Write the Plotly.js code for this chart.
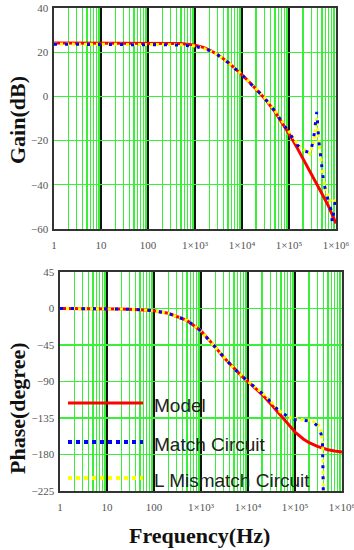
<!DOCTYPE html>
<html>
<head>
<meta charset="utf-8">
<script src="https://cdn.plot.ly/plotly-3.0.1.min.js"></script>
<style>html,body{margin:0;padding:0;background:#fff;}#chart{width:354px;height:550px;}</style>
</head>
<body>
<div id="chart"></div>
<script>
// ---------- data ----------
var modelFreq = [1,2,5,10,20,50,100,200,500,1000,1500,2000,3000,5000,7000,10000,15000,20000,30000,50000,70000,100000,150000,200000,300000,500000,700000,1000000];
var modelGain = [24.2,24.2,24.2,24.2,24.2,24.2,24.2,24.1,23.9,23.2,22.2,21.1,19.0,15.5,12.8,9.8,6.1,3.4,-0.8,-6.9,-11.5,-16.9,-23.4,-28.2,-35.1,-43.9,-49.9,-57.5];
var modelPhase = [0,-0.1,-0.2,-0.3,-0.6,-1.5,-2.9,-5.9,-14.6,-27.7,-38.6,-47.3,-59.7,-73.9,-82.1,-90.0,-99.1,-106.1,-117.2,-132.7,-142.9,-152.3,-160.8,-165.4,-170.1,-174.1,-175.7,-177.0];

var matchGainFreq = [1,2,5,10,20,50,100,200,500,1000,2000,3000,5000,10000,20000,30000,50000,100000,150000,200000,280000,330000,370000,390000,400000,410000,430000,460000,480000,500000,540000,620000,700000,800000,830000,1000000];
var matchGain = [23.6,23.6,23.6,23.6,23.6,23.6,23.6,23.5,23.3,22.7,20.8,18.8,15.4,9.8,3.4,-0.6,-6.6,-16.3,-22.0,-24.5,-25.5,-20,-12,-7,-10,-15,-20,-25,-29,-33,-38,-44,-48,-52,-57,-45];

var misGainFreq = [1,2,5,10,20,50,100,200,500,1000,2000,3000,5000,10000,20000,30000,50000,100000,150000,200000,280000,330000,370000,390000,410000,440000,480000,520000,600000,700000,800000,1000000];
var misGain = [23.7,23.7,23.7,23.7,23.7,23.7,23.7,23.6,23.4,22.8,20.9,18.9,15.5,9.9,3.6,-0.4,-6.4,-16.0,-21.5,-24.0,-26.0,-21,-14,-10,-16,-22,-30,-36,-42,-46,-48,-47];

var matchPhaseFreq = [1,2,5,10,20,50,100,200,500,1000,2000,3000,5000,10000,15000,20000,27000,35000,48000,70000,100000,140000,230000,320000,360000,385000,390000,393000,396000,400000];
var matchPhase = [0,0,0,-0.3,-0.6,-1.5,-2.9,-5.9,-14.6,-27.7,-47.3,-59.7,-73.9,-90,-98.5,-104.5,-112,-120,-127,-133,-137,-138,-139,-146,-155,-168,-182,-198,-212,-225];

var misPhaseFreq = [1,2,5,10,20,50,100,200,500,1000,2000,3000,5000,10000,15000,20000,27000,35000,48000,70000,100000,140000,230000,320000,360000,385000,390000,393000,396000,400000];
var misPhase = [0,0,0,-0.3,-0.6,-1.5,-2.9,-5.9,-14.6,-27.7,-47.3,-59.7,-73.9,-90,-98,-104,-111,-118,-127,-134,-136,-137,-138,-144,-152,-166,-180,-196,-210,-225];

var seriesNames = ["Model","Match Circuit","L Mismatch Circuit"];
var xTickVals = [1,10,100,1000,10000,100000,1000000];
var xTickText = ["1","10","100","1×10³","1×10⁴","1×10⁵","1×10⁶"];
var gainTickVals = [40,20,0,-20,-40,-60];
var phaseTickVals = [45,0,-45,-90,-135,-180,-225];

// minor gridline positions (2..9 in each decade)
var minorVals = [];
for (var d = 0; d < 6; d++) { for (var k = 2; k <= 9; k++) { minorVals.push(k * Math.pow(10, d)); } }

// ---------- styling ----------
var W = 354, H = 550;
function px(x){ return x / W; }
function py(y){ return 1 - y / H; }
var GREEN = '#38f038', DARK = '#111111';
var RED = '#ff0000', BLUE = '#0000ff', YELLOW = '#ffff00';
var tickFont = {family: 'Liberation Serif, serif', size: 11, color: '#555'};

function xAxis(dom, anchor){
  return {
    type: 'log', range: [0, 6], domain: dom, anchor: anchor,
    tickmode: 'array', tickvals: xTickVals, ticktext: xTickText,
    showgrid: true, gridcolor: DARK, gridwidth: 2.2,
    minor: {tickmode: 'array', tickvals: minorVals, showgrid: true, gridcolor: GREEN, gridwidth: 1.3, ticks: ''},
    showline: true, mirror: true, linecolor: '#333', linewidth: 1.6,
    ticks: '', ticklabelstandoff: 5, ticklabeloverflow: 'allow', tickfont: tickFont, zeroline: false, fixedrange: true
  };
}
function yAxis(dom, anchor, rng, vals){
  return {
    range: rng, domain: dom, anchor: anchor,
    tickmode: 'array', tickvals: vals, ticktext: vals.map(function(v){ return v < 0 ? '\u2212' + Math.abs(v) : String(v); }),
    showgrid: true, gridcolor: GREEN, gridwidth: 1.3,
    showline: true, mirror: true, linecolor: '#333', linewidth: 1.6,
    ticks: '', ticklabelstandoff: 2, ticklabeloverflow: 'allow', tickfont: tickFont, zeroline: false, fixedrange: true
  };
}

var traces = [
  {x: modelFreq, y: modelGain, xaxis: 'x', yaxis: 'y', mode: 'lines', name: seriesNames[0], line: {color: RED, width: 3}, showlegend: false},
  {x: misGainFreq, y: misGain, xaxis: 'x', yaxis: 'y', mode: 'lines', name: seriesNames[2], line: {color: YELLOW, width: 3, dash: 'dot'}, showlegend: false},
  {x: matchGainFreq, y: matchGain, xaxis: 'x', yaxis: 'y', mode: 'lines', name: seriesNames[1], line: {color: BLUE, width: 3, dash: '3px,8px'}, showlegend: false},
  {x: modelFreq, y: modelPhase, xaxis: 'x2', yaxis: 'y2', mode: 'lines', name: seriesNames[0], line: {color: RED, width: 3}, showlegend: false},
  {x: misPhaseFreq, y: misPhase, xaxis: 'x2', yaxis: 'y2', mode: 'lines', name: seriesNames[2], line: {color: YELLOW, width: 3, dash: 'dot'}, showlegend: false},
  {x: matchPhaseFreq, y: matchPhase, xaxis: 'x2', yaxis: 'y2', mode: 'lines', name: seriesNames[1], line: {color: BLUE, width: 3, dash: '3px,8px'}, showlegend: false}
];

var titleFont = {family: 'Liberation Serif, serif', size: 22, color: '#111', weight: 'bold'};
var legFont = {family: 'Liberation Sans, Arial, sans-serif', size: 19, color: '#222'};
var legendY = [403, 442, 478];
var legendColors = [RED, BLUE, YELLOW];
var legendDash = ['solid', 'dot', 'dot'];

var shapes = [], annotations = [];
for (var i = 0; i < 3; i++) {
  shapes.push({type: 'line', xref: 'paper', yref: 'paper', x0: px(68), x1: px(143), y0: py(legendY[i]), y1: py(legendY[i]),
    line: {color: legendColors[i], width: i === 0 ? 3 : 4, dash: legendDash[i]}});
  annotations.push({xref: 'paper', yref: 'paper', x: px(152), y: py(legendY[i] + 2), xanchor: 'left', yanchor: 'middle',
    text: seriesNames[i], showarrow: false, font: legFont});
}
annotations.push({xref: 'paper', yref: 'paper', x: px(18), y: py(120), text: 'Gain(dB)', textangle: -90, showarrow: false, xanchor: 'center', yanchor: 'middle', font: titleFont});
annotations.push({xref: 'paper', yref: 'paper', x: px(17), y: py(408), text: 'Phase(degree)', textangle: -90, showarrow: false, xanchor: 'center', yanchor: 'middle', font: titleFont});
annotations.push({xref: 'paper', yref: 'paper', x: px(199), y: py(535), text: 'Frequency(Hz)', showarrow: false, xanchor: 'center', yanchor: 'middle', font: titleFont});

var layout = {
  width: W, height: H,
  margin: {l: 0, r: 0, t: 0, b: 0},
  paper_bgcolor: '#fff', plot_bgcolor: '#fff',
  showlegend: false,
  xaxis: xAxis([px(54), px(336)], 'y'),
  yaxis: yAxis([py(229), py(8)], 'x', [-60, 40], gainTickVals),
  xaxis2: xAxis([px(60), px(342)], 'y2'),
  yaxis2: yAxis([py(491), py(272)], 'x2', [-225, 45], phaseTickVals),
  shapes: shapes,
  annotations: annotations
};

Plotly.newPlot('chart', traces, layout, {displayModeBar: false, staticPlot: true});
</script>
</body>
</html>
